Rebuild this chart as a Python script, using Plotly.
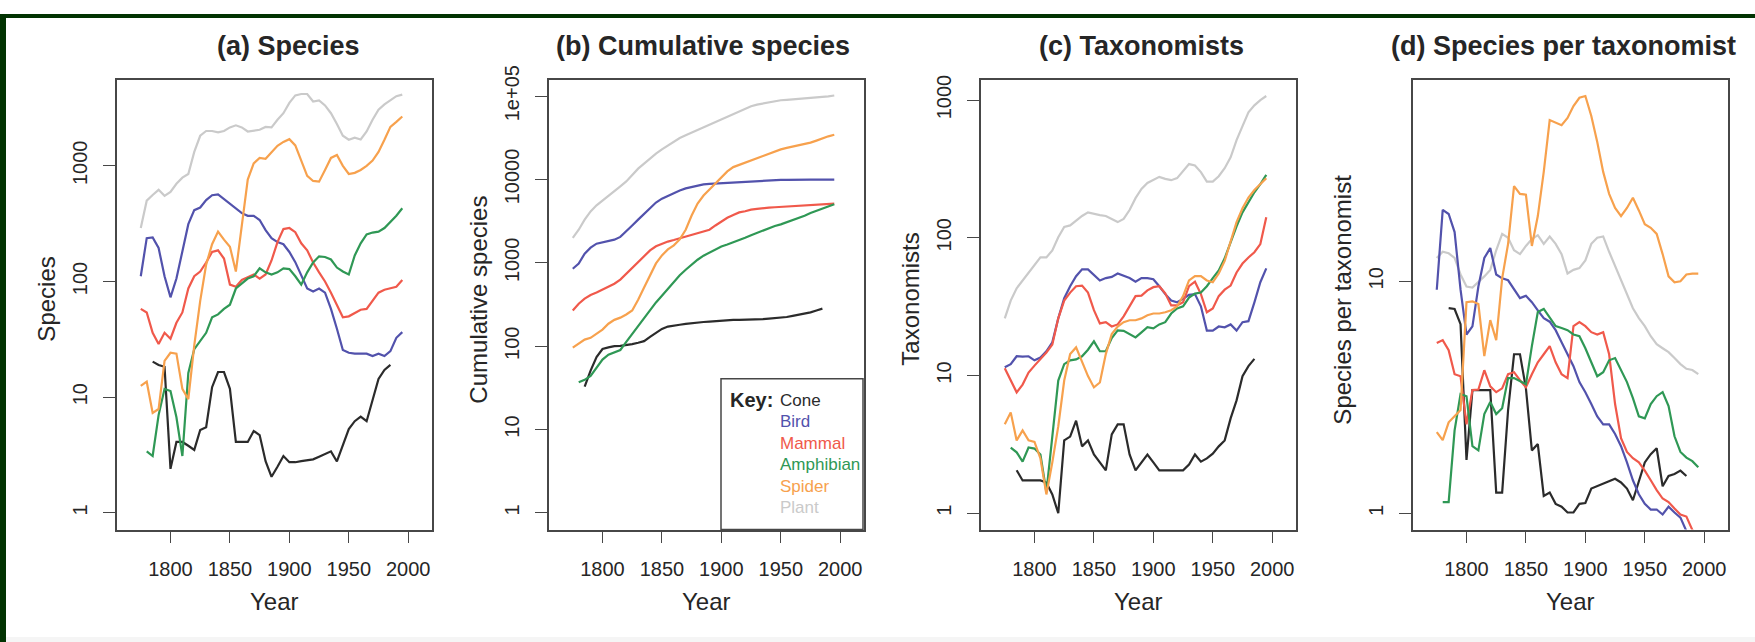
import plotly.graph_objects as go

# ---------------- data ----------------
years = list(range(1775, 2000, 5))  # 1775 ... 1995

groups = ["Cone", "Bird", "Mammal", "Amphibian", "Spider", "Plant"]
colors = ["#2b2b2b", "#5252ac", "#f0594b", "#2f9855", "#f7a14d", "#cacaca"]

# (a) Species described per period
cone_a = [None, None, 20.3, 19, 18.3, 2.4, 4.1, 4.1, 3.8, 3.5, 5.2, 5.5, 12.2, 16.5, 16.5, 11.8, 4.1, 4.1, 4.1, 5.1,
          4.7, 2.8, 2.05, 2.5, 3.1, 2.74, 2.74, 2.8, 2.85, 2.9, 3.06, 3.2, 3.4, 2.78, 3.8, 5.3, 6.2, 6.8, 6.2, 9.4,
          14.4, 17.2, 19, None, None]
bird_a = [111, 237, 240, 195, 111, 73, 106, 185, 313, 414, 436, 505, 557, 565, 515, 467, 432, 390, 370, 370,
          340, 278, 237, 219, 210, 180, 147, 111, 87, 82, 87, 80, 58, 39, 25.6, 24.2, 23.8, 23.8, 23.8, 22.7,
          23.8, 22.7, 25, 32.6, 36.5]
mammal_a = [58, 54, 36, 28.8, 36, 32, 44, 54, 87, 111, 122, 146, 180, 186, 158, 94, 90, 103, 109, 115,
            106, 115, 152, 219, 284, 290, 267, 214, 186, 146, 120, 100, 80, 63, 49, 50, 53, 57, 58, 69,
            80, 85, 87, 90, 103]
amphibian_a = [None, 3.4, 3.1, 7, 11.8, 11.3, 6.7, 3.1, 16.2, 26, 30.6, 36, 49, 52, 58, 63, 87, 96, 106, 111,
               130, 120, 115, 120, 130, 128, 111, 94, 120, 146, 165, 163, 155, 132, 122, 115, 168, 214, 255, 265,
               270, 290, 325, 370, 430]
spider_a = [12.5, 13.6, 7.3, 7.9, 20.6, 24.2, 23.8, 11.8, 9.6, 28, 68, 140, 210, 270, 230, 200, 122, 310, 760, 1050,
            1170, 1150, 1320, 1490, 1610, 1700, 1500, 1130, 820, 740, 730, 920, 1170, 1240, 1000, 850, 870, 920, 1000, 1110,
            1320, 1680, 2170, 2400, 2670]
plant_a = [290, 500, 560, 620, 550, 595, 700, 790, 850, 1320, 1820, 2000, 2000, 1950, 2000, 2150, 2240, 2150, 1980, 2000,
           2050, 2170, 2150, 2500, 2850, 3500, 4060, 4180, 4180, 3600, 3680, 3330, 2850, 2300, 1820, 1680, 1750, 1690, 1980, 2500,
           3060, 3400, 3700, 4000, 4130]

# (b) Cumulative species
cone_b = [None, None, 32.7, 51, 74, 92.5, 96.7, 100, 101, 103, 106, 110, 115, 129, 144, 161, 172, 175, 181, 185,
          189, 193, 195, 197, 200, 202, 204, 207, 207, 207, 209, 209, 211, 214, 216, 219, 224, 231, 238, 243,
          255, 268, 282, None, None]
bird_b = [850, 980, 1290, 1520, 1700, 1760, 1840, 1900, 2050, 2370, 2810, 3300, 3900, 4600, 5300, 5900, 6400, 6950, 7400, 7830,
          8160, 8500, 8760, 8860, 8950, 9050, 9150, 9250, 9350, 9450, 9550, 9650, 9750, 9800, 9850, 9900, 9900, 9950, 9950, 9950,
          9950, 9950, 9950, 9950, 9950]
mammal_b = [268, 323, 372, 412, 440, 475, 520, 562, 630, 740, 875, 1030, 1220, 1410, 1580, 1700, 1800, 1880, 1970, 2090,
            2210, 2310, 2390, 2500, 2810, 3150, 3480, 3760, 4030, 4160, 4350, 4450, 4550, 4600, 4650, 4700, 4760, 4820, 4880, 4930,
            4990, 5040, 5100, 5150, 5150]
amphibian_b = [None, 37, 39.5, 44, 55, 69, 79, 84, 90, 113, 141, 172, 214, 274, 335, 403, 486, 594, 710, 826,
               960, 1090, 1220, 1330, 1450, 1575, 1660, 1760, 1880, 2000, 2150, 2300, 2450, 2630, 2770, 2900, 3060, 3230, 3410, 3670,
               3960, 4230, 4520, 4800, 5050]
spider_b = [96, 107, 120, 126, 141, 158, 186, 207, 220, 240, 268, 360, 505, 705, 985, 1230, 1450, 1620, 1910, 2500,
            3700, 5150, 6420, 7600, 8950, 10500, 12500, 14100, 15000, 15800, 16800, 18000, 19200, 20500, 21700, 23000, 24000, 24800, 25600, 26500,
            27700, 29300, 31300, 33000, 34500]
plant_b = [2000, 2500, 3300, 4150, 4900, 5560, 6450, 7200, 8300, 9500, 11300, 13500, 15500, 18000, 20500, 23000, 25600, 28700, 31500, 34000,
           36600, 39000, 42000, 45500, 49400, 53200, 57500, 62000, 66000, 71700, 75800, 79300, 81900, 84600, 87500, 89500, 90500, 91500, 92500, 93700,
           94800, 96000, 97100, 99500, 102000]

# (c) Taxonomists
cone_c = [None, None, 2.05, 1.73, 1.73, 1.73, 1.73, 1.67, 1.37, 1.0, 3.38, 3.6, 4.7, 3.06, 3.38, 2.67, 2.34, 2.05, 3.74, 4.42,
          4.42, 2.67, 2.05, 2.34, 2.67, 2.34, 2.05, 2.05, 2.05, 2.05, 2.05, 2.26, 2.67, 2.37, 2.5, 2.71, 3.06, 3.38, 4.88, 6.6,
          9.9, 11.7, 13.2, None, None]
bird_c = [11.5, 12.1, 13.8, 13.7, 13.8, 12.9, 13.5, 15, 17.4, 26, 36.4, 44.5, 52.6, 59, 59, 54, 49, 51, 52, 55,
          52.6, 51, 48, 51, 51, 50, 44.5, 39, 35, 34, 36, 38.5, 39, 31.8, 21.2, 21.2, 22.7, 22.4, 23.5, 21.2,
          24.4, 24.8, 34, 47.6, 60]
mammal_c = [11.3, 9.2, 7.55, 8.6, 10.5, 11.8, 13.1, 14.7, 16.8, 26, 35, 40, 44.5, 45, 40, 29.8, 23.9, 24.4, 22.7, 23.5,
            26.9, 31.8, 37.7, 38, 41.5, 43.8, 44.5, 39.5, 32.3, 32.3, 34, 44.5, 48, 39, 28.8, 30.7, 37.7, 42, 45, 56,
            65, 72, 78.5, 90, 141]
amphibian_c = [None, 3.0, 2.77, 2.37, 3.0, 2.95, 2.67, 1.42, 3.74, 9.2, 12.1, 12.9, 13.1, 13.8, 15.4, 17.7, 15, 15, 18.7, 21.3,
               21.1, 20, 18.9, 20.6, 22.4, 22, 23.5, 24.4, 28.2, 30.7, 31.8, 36.8, 39.3, 40, 44.5, 51, 58, 71, 93, 121,
               153, 182, 214, 245, 286]
spider_c = [4.42, 5.4, 3.38, 4.0, 3.38, 3.3, 2.5, 1.37, 2.34, 4.27, 9.2, 14.3, 16, 12.5, 9.9, 8.2, 8.9, 14.3, 20, 22.7,
            24.4, 25.2, 25.2, 26, 27.4, 28.2, 28.2, 28.8, 29.8, 31.8, 37.7, 49, 52.6, 52.6, 49, 47.6, 55, 68, 94, 130,
            164, 196, 222, 245, 271]
plant_c = [26, 35, 43, 49, 56, 64, 72, 72, 81, 101, 120, 123, 134, 144, 153, 149, 146, 144, 136, 130,
           137, 159, 194, 226, 250, 262, 277, 268, 262, 271, 303, 343, 335, 300, 256, 256, 280, 320, 384, 512,
           647, 815, 915, 1000, 1070]

# (d) Species per taxonomist
cone_d = [None, None, 7.66, 7.6, 6.54, 1.7, 3.4, 3.4, 3.4, 3.4, 1.23, 1.23, 2.79, 4.85, 4.85, 3.46, 1.87, 1.99, 1.19, 1.23,
          1.1, 1.07, 1.01, 1.01, 1.1, 1.11, 1.28, 1.31, 1.34, 1.37, 1.41, 1.36, 1.28, 1.14, 1.39, 1.66, 1.8, 1.91, 1.31, 1.45,
          1.48, 1.53, 1.45, None, None]
bird_d = [9.2, 20.3, 19.5, 16.3, 9.2, 5.9, 6.4, 9.5, 12.6, 13.9, 10.7, 10.3, 10.1, 9.25, 8.47, 8.66, 8.13, 7.5, 6.94, 6.7,
          6.16, 5.47, 4.85, 4.31, 3.68, 3.33, 2.96, 2.62, 2.42, 2.42, 2.2, 1.95, 1.66, 1.39, 1.21, 1.1, 1.04, 1.04, 0.99, 1.07,
          1.01, 0.96, 0.84, 0.75, 0.7]
mammal_d = [5.42, 5.58, 5.05, 3.98, 3.9, 2.42, 3.4, 3.42, 4.14, 3.53, 3.33, 3.46, 3.98, 4.06, 3.75, 3.5, 3.98, 4.48, 4.85, 5.26,
            4.48, 3.98, 3.83, 6.41, 6.67, 6.41, 6.04, 5.9, 6.04, 4.85, 2.96, 2.11, 1.84, 1.73, 1.66, 1.53, 1.39, 1.26, 1.16, 1.12,
            1.05, 0.99, 0.97, 0.85, 0.78]
amphibian_d = [None, 1.12, 1.12, 2.28, 3.27, 3.2, 1.95, 1.87, 2.68, 3.02, 2.68, 2.84, 3.83, 3.83, 3.7, 3.6, 5.26, 7.37, 7.6, 6.94,
               6.41, 6.29, 6.16, 5.9, 5.8, 5.15, 4.48, 3.9, 4.06, 4.57, 4.67, 4.14, 3.68, 3.14, 2.62, 2.57, 2.96, 3.2, 3.33, 2.9,
               2.15, 1.84, 1.74, 1.68, 1.58]
spider_d = [2.24, 2.07, 2.47, 2.62, 2.79, 8.13, 8.2, 7.98, 4.76, 6.8, 5.58, 10.3, 14.5, 25.7, 23.8, 23.6, 14.2, 19.1, 29.6, 49.5,
            48.4, 47, 50.5, 56.9, 61.7, 62.8, 51.5, 39.8, 29.6, 23.8, 20.7, 19.1, 20.7, 22.9, 20.2, 17.6, 17, 16, 13.1, 10.5,
            9.9, 10, 10.7, 10.8, 10.8]
plant_d = [12.6, 13.4, 13.2, 12.6, 10.7, 9.5, 9.4, 9.9, 10.5, 11.2, 13.6, 16, 15.4, 13.6, 13.1, 14.2, 15.2, 15.8, 14.5, 15.6,
           14.5, 13.1, 10.8, 11.2, 11.4, 12.3, 14.5, 15.4, 15.6, 13.4, 11.6, 10.1, 8.8, 7.66, 6.94, 6.41, 5.8, 5.36, 5.15, 4.95,
           4.67, 4.4, 4.2, 4.15, 3.98]

panel_titles = ["(a) Species", "(b) Cumulative species", "(c) Taxonomists", "(d) Species per taxonomist"]
y_titles = ["Species", "Cumulative species", "Taxonomists", "Species per taxonomist"]
x_title = "Year"
x_ticks = [1800, 1850, 1900, 1950, 2000]
y_tickvals = [[1, 10, 100, 1000],
              [1, 10, 100, 1000, 10000, 100000],
              [1, 10, 100, 1000],
              [1, 10]]
y_ticktext = [["1", "10", "100", "1000"],
              ["1", "10", "100", "1000", "10000", "1e+05"],
              ["1", "10", "100", "1000"],
              ["1", "10"]]
legend_title = "Key:"

panel_data = [
    [cone_a, bird_a, mammal_a, amphibian_a, spider_a, plant_a],
    [cone_b, bird_b, mammal_b, amphibian_b, spider_b, plant_b],
    [cone_c, bird_c, mammal_c, amphibian_c, spider_c, plant_c],
    [cone_d, bird_d, mammal_d, amphibian_d, spider_d, plant_d],
]

# ---------------- layout geometry (pixels) ----------------
W, H = 1755, 642
box_left = [117, 549, 981, 1413]
box_w = 315
box_top, box_bot = 67, 527
x_range = [1755, 2020]
y_ranges = [[-0.144, 3.746], [-0.2, 5.2], [-0.118, 3.149], [-0.069, 1.869]]
title_cx = [288, 703, 1141, 1563]

FONT = "Liberation Sans, Arial, Helvetica, sans-serif"
TXT = "#262626"
AX = "#474747"


def px(x):
    return x / W


def py(y):
    return 1 - y / H


fig = go.Figure()
draw_order = [5, 0, 1, 2, 3, 4]  # plant underneath the rest
for p in range(4):
    sfx = "" if p == 0 else str(p + 1)
    for gi in draw_order:
        fig.add_trace(go.Scatter(
            x=years, y=panel_data[p][gi], mode="lines", name=groups[gi],
            line=dict(color=colors[gi], width=2.2),
            xaxis="x" + sfx, yaxis="y" + sfx, showlegend=False,
            connectgaps=False, hoverinfo="x+y+name"))

    common = dict(showline=True, linecolor=AX, linewidth=1.6, mirror=True,
                  ticks="outside", ticklen=12, tickwidth=1.4, tickcolor=AX,
                  showgrid=False, zeroline=False,
                  tickfont=dict(family=FONT, size=20, color=TXT))
    fig.layout["xaxis" + sfx] = dict(
        domain=[px(box_left[p]), px(box_left[p] + box_w)],
        range=x_range, tickvals=x_ticks, anchor="y" + sfx,
        ticklabelstandoff=9, **common)
    fig.layout["yaxis" + sfx] = dict(
        domain=[py(box_bot), py(box_top)], type="log",
        range=y_ranges[p], tickvals=y_tickvals[p], ticktext=y_ticktext[p],
        tickangle=-90, anchor="x" + sfx, ticklabelstandoff=8, **common)

annotations = []
for p in range(4):
    cx = box_left[p] + box_w / 2
    annotations.append(dict(text="<b>" + panel_titles[p] + "</b>", x=px(title_cx[p]), y=py(33),
                            xref="paper", yref="paper", xanchor="center", yanchor="middle",
                            showarrow=False, font=dict(family=FONT, size=27, color=TXT)))
    annotations.append(dict(text=x_title, x=px(cx), y=py(601), xref="paper", yref="paper",
                            xanchor="center", yanchor="middle", showarrow=False,
                            font=dict(family=FONT, size=24, color=TXT)))
    annotations.append(dict(text=y_titles[p], x=px(box_left[p] - 70), y=py(292), xref="paper", yref="paper",
                            xanchor="center", yanchor="middle", textangle=-90, showarrow=False,
                            font=dict(family=FONT, size=24, color=TXT)))

# legend ("Key") inside panel (b)
leg_x0, leg_x1, leg_y0, leg_y1 = 721, 863, 373, 527
annotations.append(dict(text="<b>" + legend_title + "</b>", x=px(728), y=py(395), xref="paper", yref="paper",
                        xanchor="left", yanchor="middle", showarrow=False,
                        font=dict(family=FONT, size=20, color=TXT)))
for i, g in enumerate(groups):
    annotations.append(dict(text=g, x=px(778), y=py(395 + 22 * i), xref="paper", yref="paper",
                            xanchor="left", yanchor="middle", showarrow=False,
                            font=dict(family=FONT, size=17, color=colors[i])))

shapes = [
    dict(type="rect", xref="paper", yref="paper", x0=px(leg_x0), x1=px(leg_x1), y0=py(leg_y1), y1=py(leg_y0),
         line=dict(color=AX, width=1.5), fillcolor="rgba(0,0,0,0)"),
    # dark green frame (top and left edges of the page)
    dict(type="rect", xref="paper", yref="paper", x0=0, x1=1, y0=py(4), y1=1,
         line=dict(width=0), fillcolor="#023302"),
    dict(type="rect", xref="paper", yref="paper", x0=0, x1=px(6), y0=0, y1=1,
         line=dict(width=0), fillcolor="#023302"),
    # faint light strip along the bottom edge
    dict(type="rect", xref="paper", yref="paper", x0=px(6), x1=1, y0=0, y1=py(637),
         line=dict(width=0), fillcolor="#f5f5f5", layer="below"),
]

fig.update_layout(width=W, height=H, margin=dict(l=0, r=0, t=0, b=0, pad=0),
                  paper_bgcolor="white", plot_bgcolor="white",
                  annotations=annotations, shapes=shapes, showlegend=False,
                  font=dict(family=FONT, color=TXT))

fig.write_html("out.html")
